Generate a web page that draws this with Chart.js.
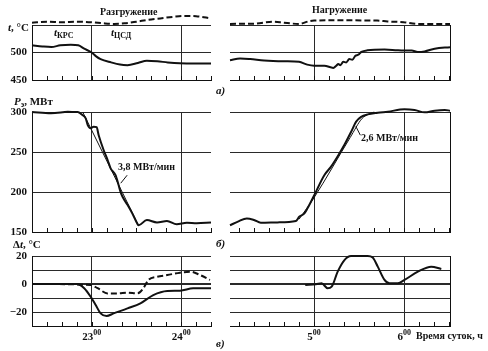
<!DOCTYPE html>
<html><head><meta charset="utf-8">
<script src="https://cdn.jsdelivr.net/npm/chart.js@4.4.0/dist/chart.umd.min.js"></script>
<style>
html,body{margin:0;padding:0;background:#fff;}
#wrap{position:relative;width:488px;height:351px;background:#fff;overflow:hidden;}
canvas{position:absolute;left:0;top:0;}
.t{position:absolute;font-family:"Liberation Serif",serif;font-size:11px;font-weight:bold;color:#111;line-height:12px;white-space:nowrap;}
.t i{font-style:italic;}
.t sub{font-size:8px;vertical-align:-2px;line-height:0;}
</style></head>
<body><div id="wrap">
<canvas id="aL" width="488" height="351"></canvas>
<canvas id="aR" width="488" height="351"></canvas>
<canvas id="bL" width="488" height="351"></canvas>
<canvas id="bR" width="488" height="351"></canvas>
<canvas id="cL" width="488" height="351"></canvas>
<canvas id="cR" width="488" height="351"></canvas>
<div class="t" style="left:100px;top:6px;font-size:10px;">Разгружение</div>
<div class="t" style="left:312px;top:4px;font-size:10px;">Нагружение</div>
<div class="t" style="left:8px;top:21px;"><i>t</i>, °C</div>
<div class="t" style="left:14px;top:95px;"><i>P</i><sub>э</sub>, МВт</div>
<div class="t" style="left:13px;top:238px;">Δ<i>t</i>, °C</div>
<div class="t" style="left:216px;top:84px;"><i>а)</i></div>
<div class="t" style="left:216px;top:237px;"><i>б)</i></div>
<div class="t" style="left:216px;top:337px;"><i>в)</i></div>
<div class="t" style="left:54px;top:26px;"><i>t</i><sub>КРС</sub></div>
<div class="t" style="left:111px;top:26px;"><i>t</i><sub>ЦСД</sub></div>
<div class="t" style="left:118px;top:161px;font-size:10px;">3,8 МВт/мин</div>
<div class="t" style="left:361px;top:132px;font-size:10px;">2,6 МВт/мин</div>
<div class="t" style="left:416px;top:330px;font-size:10px;">Время суток, ч</div>
</div>
<script>
// ---- x: minutes after 22:00 (left panels) and after 4:00 (right panels)
const leftHourTicks = [120, 180];
const leftHourLabels = ['23', '24'];
const rightHourTicks = [60, 120];
const rightHourLabels = ['5', '6'];
const leftMinorTicks = [90,100,110,120,130,140,150,160,170,180,190,200];
const rightMinorTicks = [10,20,30,40,50,60,70,80,90,100,110,120,130,140,150];

// ---- a) temperature, °C
const aLeftKrsX = [80,87,93,99,106,111,115,120,123,126,133,139,144,151,157,164,171,179,189,200];
const aLeftKrsY = [513,511,510,513,514,513,507,500,493,488,482,478,477,481,485,484,482,480.5,480,480];
const aLeftCsdX = [80,90,100,110,120,128,135,142,150,158,166,175,182,190,200];
const aLeftCsdY = [554,556,555,556,555,553,552,553,556,559.5,562,565,566.5,566,562];
const aRightKrsX = [4,10.7,17.4,26.7,40,50,55.4,60,66.8,72.8,74.8,76.1,77.5,79.4,81.4,83.4,85.5,87.5,89.5,91.5,95.5,106.9,115.5,119.6,125,129,133.6,140.3,150.5];
const aRightKrsY = [486,489,488,485.5,484,483,478,476,476,472,476,479,477,483,482,488,487,494,496,501,504,505.5,504,503.6,503.6,501,502,507,509.6];
const aRightCsdX = [4,20,33.4,40,50,56.8,60,73.5,102,108.9,119.6,129,150.5];
const aRightCsdY = [552,552.5,556,554,552,557,558,558.5,558,556.5,555,552,552];

// ---- б) electric power, MW
const bLeftX = [80,92.7,104,110.7,114,116,117.3,119.3,121.3,123.3,124.7,128,130.7,132.7,136,138,139.3,140.7,144,147.3,150.7,151.5,157,163.8,170.5,177,183.8,190.5,200];
const bLeftY = [300,298.5,300.4,300,296,292,284,279.6,281.7,281,271,252.5,240,229.6,221,209,200.4,194,184,173,160,158.4,165,162,163.7,159.6,161.6,161,161.8];
const bLeftRampX = [114, 151];
const bLeftRampY = [300, 160];
const bLeftLeaderX = [143.8, 139.5];
const bLeftLeaderY = [221, 211];
const bRightX = [4,9.3,15.2,20,24.5,35.6,47.9,50.1,53.4,55.6,60.1,66.8,71.3,76.8,80.2,84.6,88,91.3,95.7,102.4,109.1,120.2,126.9,133.6,140.3,147,150.5];
const bRightY = [158.4,163,167,165,161.6,162,163.7,169,173,179.6,196,221,231.7,248,259,275,288,294,297,299,300.4,303.4,302.5,299.6,301.7,302.5,301.7];
const bRightRampX = [50, 60, 84, 92, 100];
const bRightRampY = [166, 193, 268, 292, 300];
const bRightLeaderX = [90.8, 87.8];
const bRightLeaderY = [271, 282];

// ---- в) temperature deviation, °C
const cLeftSolidX = [80,110,115,120,122.7,126,130,134.7,144,152.7,161.3,170.7,179.3,188,200];
const cLeftSolidY = [0,0,-3,-10.2,-15,-21,-22.9,-21,-17.4,-13.8,-7.9,-5,-4.8,-3.1,-3];
const cLeftDashX = [80,119.3,124,130.7,137.3,144,150.7,154.7,158,164,170.7,179.3,186,192.7,199.3];
const cLeftDashY = [0,-0.7,-3,-6.7,-6.7,-6.2,-6.7,-3,2.9,5.2,6.4,8.1,8.8,6.4,2.9];
const cRightX = [54.1,61.2,65,69,71.7,75.7,80.2,84.6,95.7,99,102.4,106.9,110.2,115.8,120.2,129.1,138,144.7];
const cRightY = [-0.7,-0.2,0.5,-3,-1.9,8.8,17.1,20,20,19,12.4,2.9,0.5,0.5,2.9,8.8,12.4,10.7];

const INK = '#111';
const GRID = '#2a2a2a';
const FONT = '"Liberation Serif", serif';

const pts = (xs, ys) => xs.map((x, i) => ({x, y: ys[i]}));
const line = (xs, ys, w, dash) => ({
  data: pts(xs, ys), borderColor: INK, borderWidth: w, borderDash: dash || [],
  pointRadius: 0, cubicInterpolationMode: 'monotone', tension: 0.4, clip: false, fill: false
});
const straight = (xs, ys, w) => ({
  data: pts(xs, ys), borderColor: INK, borderWidth: w, pointRadius: 0, tension: 0, clip: false, fill: false
});

const extraPlugin = {
  id: 'extra',
  afterDraw(chart, args, opts) {
    const {ctx, chartArea} = chart;
    const x = chart.scales.x;
    ctx.save();
    ctx.strokeStyle = INK; ctx.lineWidth = 1;
    (opts.minor || []).forEach(v => {
      const px = Math.round(x.getPixelForValue(v)) + 0.5;
      ctx.beginPath(); ctx.moveTo(px, chartArea.bottom); ctx.lineTo(px, chartArea.bottom - 4); ctx.stroke();
    });
    if (opts.labels) {
      ctx.fillStyle = INK; ctx.textBaseline = 'alphabetic';
      opts.ticks.forEach((v, i) => {
        const px = x.getPixelForValue(v);
        const main = opts.labels[i], sup = '00';
        ctx.font = 'bold 11px ' + FONT; const w1 = ctx.measureText(main).width;
        ctx.font = 'bold 8px ' + FONT; const w2 = ctx.measureText(sup).width;
        const s = px - (w1 + w2) / 2;
        ctx.font = 'bold 11px ' + FONT; ctx.fillText(main, s, chartArea.bottom + 14);
        ctx.font = 'bold 8px ' + FONT; ctx.fillText(sup, s + w1, chartArea.bottom + 9);
      });
    }
    ctx.restore();
  }
};

function makeChart(id, o) {
  const side = o.side;
  return new Chart(document.getElementById(id), {
    type: 'line',
    data: {datasets: o.datasets},
    options: {
      responsive: false, animation: false, events: [],
      layout: {padding: o.pad},
      plugins: {legend: {display: false}, tooltip: {enabled: false},
        extra: {minor: o.minor, ticks: o.hours, labels: o.hourLabels}},
      scales: {
        x: {type: 'linear', min: o.xmin, max: o.xmax,
          afterBuildTicks: s => { s.ticks = o.hours.map(v => ({value: v})); },
          afterFit: s => { s.height = 0; },
          ticks: {display: false},
          grid: {drawTicks: false, color: GRID, lineWidth: 1},
          border: {display: true, color: INK, width: 1}},
        y: {type: 'linear', position: side, min: o.ymin, max: o.ymax,
          afterFit: s => { s.width = o.axisW; },
          afterBuildTicks: s => { s.ticks = o.yticks.map(v => ({value: v})); },
          ticks: {display: side === 'left', padding: 5, color: INK, autoSkip: false,
            font: {family: FONT, size: 11, weight: 'bold'},
            callback: o.ylabel},
          grid: {drawTicks: false, color: GRID, lineWidth: o.gridW || 1},
          border: {display: true, color: INK, width: 1}}
      }
    },
    plugins: [extraPlugin]
  });
}

const leftPad = (top, bottom) => ({left: 0, right: 277, top, bottom});
const rightPad = (top, bottom) => ({left: 230, right: 38, top, bottom});
const L = {side: 'left', axisW: 32, xmin: 80, xmax: 200, hours: leftHourTicks, minor: leftMinorTicks};
const R = {side: 'right', axisW: 0, xmin: 4, xmax: 150.5, hours: rightHourTicks, minor: rightMinorTicks};

const aTicks = [450, 500, 550];
const aLabel = v => (v === 550 ? '' : String(v));
const bTicks = [150, 200, 250, 300];
const cTicks = [-30, -20, -10, 0, 10, 20];
const cLabel = v => (v === 20 ? '20' : v === 0 ? '0' : v === -20 ? '\u221220' : '');
const cGridW = c => (c.tick && c.tick.value === 0 ? 2 : 1);

makeChart('aL', Object.assign({}, L, {pad: leftPad(25, 271), ymin: 450, ymax: 550, yticks: aTicks, ylabel: aLabel,
  datasets: [line(aLeftKrsX, aLeftKrsY, 2), line(aLeftCsdX, aLeftCsdY, 2, [6, 3])]}));
makeChart('aR', Object.assign({}, R, {pad: rightPad(25, 271), ymin: 450, ymax: 550, yticks: aTicks, ylabel: aLabel,
  datasets: [line(aRightKrsX, aRightKrsY, 2), line(aRightCsdX, aRightCsdY, 2, [6, 3])]}));
makeChart('bL', Object.assign({}, L, {pad: leftPad(112, 119), ymin: 150, ymax: 300, yticks: bTicks, ylabel: v => String(v),
  datasets: [line(bLeftX, bLeftY, 2), straight(bLeftRampX, bLeftRampY, 1), straight(bLeftLeaderX, bLeftLeaderY, 1)]}));
makeChart('bR', Object.assign({}, R, {pad: rightPad(112, 119), ymin: 150, ymax: 300, yticks: bTicks, ylabel: v => String(v),
  datasets: [line(bRightX, bRightY, 2), line(bRightRampX, bRightRampY, 1), straight(bRightLeaderX, bRightLeaderY, 1)]}));
makeChart('cL', Object.assign({}, L, {pad: leftPad(256, 25), ymin: -30, ymax: 20, yticks: cTicks, ylabel: cLabel, gridW: cGridW,
  hourLabels: leftHourLabels,
  datasets: [line(cLeftSolidX, cLeftSolidY, 2), line(cLeftDashX, cLeftDashY, 2, [6, 3])]}));
makeChart('cR', Object.assign({}, R, {pad: rightPad(256, 25), ymin: -30, ymax: 20, yticks: cTicks, ylabel: cLabel, gridW: cGridW,
  hourLabels: rightHourLabels,
  datasets: [line(cRightX, cRightY, 2)]}));
</script>
</body></html>
